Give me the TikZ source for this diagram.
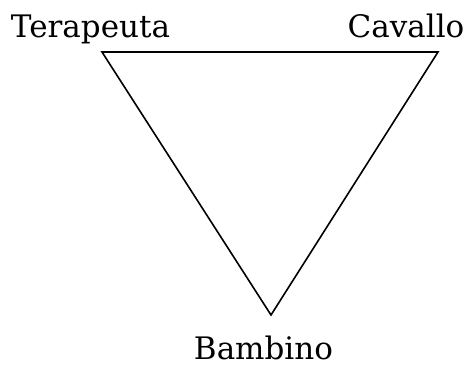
\documentclass[tikz,border=0pt]{standalone}
\usepackage{fontspec}
\setmainfont{DejaVu Serif}
\begin{document}
\begin{tikzpicture}[x=1pt,y=-1pt,
  lbl/.style={anchor=base,inner sep=0pt,font=\fontsize{31}{36}\selectfont},
  edge/.style={line width=1.6pt,line join=miter}]
\useasboundingbox (0,0) rectangle (467,365);
\coordinate (t) at (102,52);
\coordinate (c) at (438,52);
\coordinate (b) at (271,315);
\node[lbl] (lt) at (90.5,37) {Terapeuta};
\node[lbl] (lc) at (406,37) {Cavallo};
\node[lbl] (lb) at (263.5,359) {Bambino};
\draw[edge] (t) -- (c) -- (b) -- cycle;
\end{tikzpicture}
\end{document}
